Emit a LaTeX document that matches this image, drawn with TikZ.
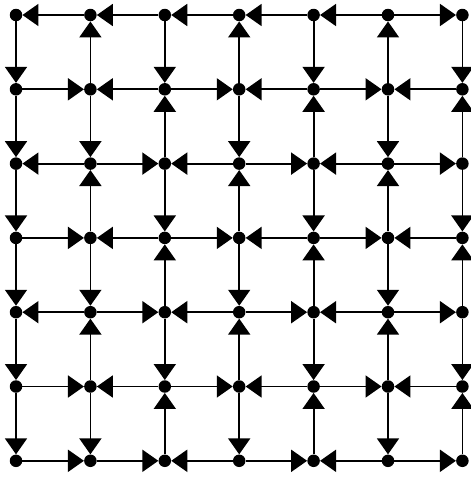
\documentclass[tikz,border=0pt]{standalone}
\usetikzlibrary{arrows.meta}
\begin{document}
\begin{tikzpicture}[x=1pt,y=-1pt,
  dot/.style={circle,fill=black,inner sep=0pt,minimum size=12.5pt},
  edge/.style={line width=1.8pt,-{Triangle[length=16pt,width=22pt]}}]
\useasboundingbox (0,0) rectangle (471,477);
\foreach \i in {0,...,6}{
  \foreach \j in {0,...,6}{
    \node[dot] (n-\i-\j) at ({16+74.4*\i},{15+74.3*\j}) {};
  }
}
% horizontal edges: 1 = toward right node, 0 = toward left node
\foreach \j/\dirs in {0/{0,0,0,0,0,1},1/{1,0,1,0,1,0},2/{0,1,0,1,0,1},3/{1,0,1,0,1,0},4/{0,1,0,1,0,1},5/{1,0,1,0,1,0},6/{1,1,0,1,0,1}}{
  \foreach \d [count=\i from 0] in \dirs {
    \pgfmathtruncatemacro\k{\i+1}
    \ifnum\d=1
      \draw[edge] (n-\i-\j) -- (n-\k-\j);
    \else
      \draw[edge] (n-\k-\j) -- (n-\i-\j);
    \fi
  }
}
% vertical edges: 1 = toward lower node, 0 = toward upper node
\foreach \i/\dirs in {0/{1,1,1,1,1,1},1/{0,1,0,1,0,1},2/{1,0,1,0,1,0},3/{0,1,0,1,0,1},4/{1,0,1,0,1,0},5/{0,1,0,1,0,1},6/{1,0,1,0,1,0}}{
  \foreach \d [count=\j from 0] in \dirs {
    \pgfmathtruncatemacro\k{\j+1}
    \ifnum\d=1
      \draw[edge] (n-\i-\j) -- (n-\i-\k);
    \else
      \draw[edge] (n-\i-\k) -- (n-\i-\j);
    \fi
  }
}
\end{tikzpicture}
\end{document}
